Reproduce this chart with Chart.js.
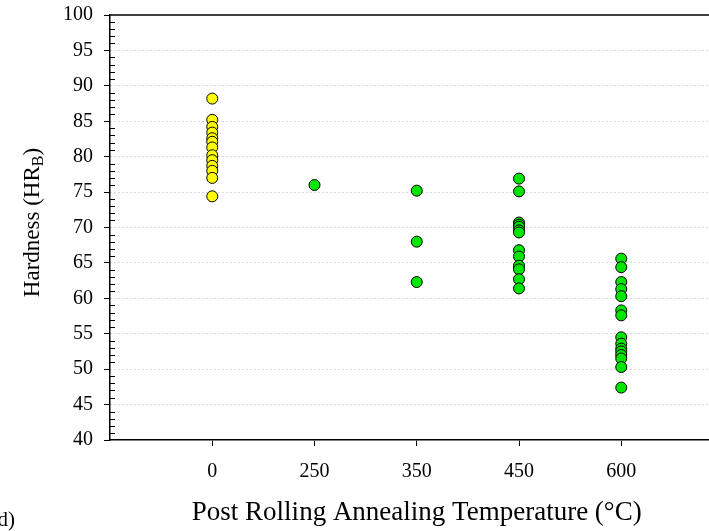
<!DOCTYPE html>
<html>
<head>
<meta charset="utf-8">
<script src="https://cdn.jsdelivr.net/npm/chart.js@4/dist/chart.umd.min.js"></script>
<style>
  html, body { margin: 0; padding: 0; background: #fff; overflow: hidden; }
  #wrap { width: 709px; height: 531px; overflow: hidden; position: relative; }
  #box { width: 730px; height: 531px; position: absolute; left: 0; top: 0; }
</style>
</head>
<body>
<div id="wrap"><div id="box"><canvas id="myChart"></canvas></div></div>
<script>
// temperature categories (x tick labels)
var tempLabels = ['0', '250', '350', '450', '600'];

// hardness readings per temperature
var hard0 = [88.2, 85.2, 84.2, 83.4, 82.6, 82.1, 81.3, 80.2, 79.5, 78.7, 78.0, 77.0, 74.4];
var hard250 = [76.0];
var hard350 = [75.2, 68.0, 62.3];
var hard450 = [76.9, 75.1, 70.7, 70.4, 70.1, 69.6, 69.3, 66.8, 65.9, 64.6, 64.1, 62.7, 61.4];
var hard600 = [65.6, 64.4, 62.3, 61.3, 60.3, 58.3, 57.6, 54.5, 53.6, 52.9, 52.5, 52.0, 51.5, 50.3, 47.4];

var yMin = 40, yMax = 100, yStep = 5;

var serif = "'Liberation Serif', 'Times New Roman', serif";

// turn a list of readings into points at category position idx (1-based)
function toPoints(values, idx) {
    return values.map(function (v) { return { x: idx, y: v }; });
}

var annealed = [].concat(
    toPoints(hard250, 2),
    toPoints(hard350, 3),
    toPoints(hard450, 4),
    toPoints(hard600, 5)
);

// top frame line, minor ticks, y title with subscript, panel letter
var extras = {
    id: 'extras',
    afterDraw: function (chart) {
        var ctx = chart.ctx;
        var area = chart.chartArea;
        var ys = chart.scales.y;
        ctx.save();
        ctx.strokeStyle = '#000';
        ctx.lineWidth = 1.5;
        ctx.beginPath();
        ctx.moveTo(area.left, area.top);
        ctx.lineTo(area.right, area.top);
        ctx.stroke();

        ctx.lineWidth = 1;
        ctx.beginPath();
        for (var v = yMin + 1; v < yMax; v++) {
            if (v % yStep === 0) continue;
            var py = Math.round(ys.getPixelForValue(v)) + 0.5;
            ctx.moveTo(area.left, py);
            ctx.lineTo(area.left + 5, py);
        }
        ctx.stroke();

        // y axis title: Hardness (HR_B)
        ctx.fillStyle = '#000';
        ctx.translate(33, (area.top + area.bottom) / 2 - 5);
        ctx.rotate(-Math.PI / 2);
        var big = '23px ' + serif, small = '16px ' + serif;
        var parts = [['Hardness (HR', big, 0], ['B', small, 6], [')', big, 0]];
        var total = 0;
        parts.forEach(function (p) { ctx.font = p[1]; total += ctx.measureText(p[0]).width; });
        var x = -total / 2;
        ctx.textBaseline = 'middle';
        parts.forEach(function (p) {
            ctx.font = p[1];
            ctx.fillText(p[0], x, p[2]);
            x += ctx.measureText(p[0]).width;
        });
        ctx.restore();

        ctx.save();
        ctx.fillStyle = '#000';
        ctx.font = '21px ' + serif;
        ctx.textAlign = 'right';
        ctx.textBaseline = 'middle';
        ctx.fillText('(d)', 15, 520);
        ctx.restore();
    }
};

function renderChart() {
    var ctx = document.getElementById('myChart').getContext('2d');
    new Chart(ctx, {
        type: 'scatter',
        data: {
            datasets: [
                {
                    label: 'As rolled',
                    data: toPoints(hard0, 1),
                    backgroundColor: '#ffff00',
                    borderColor: '#000',
                    borderWidth: 1,
                    pointRadius: 5.5,
                },
                {
                    label: 'Annealed',
                    data: annealed,
                    backgroundColor: '#00e600',
                    borderColor: '#000',
                    borderWidth: 1,
                    pointRadius: 5.5,
                },
            ]
        },
        options: {
            responsive: true,
            maintainAspectRatio: false,
            animation: false,
            events: [],
            layout: { padding: { left: 0, right: 5, top: 15, bottom: 0 } },
            plugins: { legend: { display: false }, tooltip: { enabled: false } },
            scales: {
                x: {
                    type: 'linear',
                    min: 0,
                    max: tempLabels.length + 1,
                    afterBuildTicks: function (scale) {
                        scale.ticks = tempLabels.map(function (t, i) { return { value: i + 1 }; });
                    },
                    afterFit: function (scale) {
                        scale.height = 91;
                        scale.paddingLeft = 0;
                        scale.paddingRight = 0;
                    },
                    ticks: {
                        autoSkip: false,
                        maxRotation: 0,
                        color: '#000',
                        padding: 14,
                        font: { family: serif, size: 20 },
                        callback: function (v) { return tempLabels[v - 1]; }
                    },
                    grid: {
                        drawOnChartArea: false,
                        tickLength: 6,
                        tickColor: '#000',
                        tickWidth: 1
                    },
                    border: { color: '#000', width: 1.5 },
                    title: {
                        display: true,
                        text: 'Post Rolling Annealing Temperature (°C)',
                        color: '#000',
                        font: { family: serif, size: 27 },
                        padding: { top: 0, bottom: 2 }
                    }
                },
                y: {
                    min: yMin,
                    max: yMax,
                    afterFit: function (scale) {
                        scale.width = 110;
                        scale.paddingTop = 0;
                        scale.paddingBottom = 0;
                    },
                    ticks: {
                        stepSize: yStep,
                        color: '#000',
                        padding: 11,
                        font: { family: serif, size: 20 }
                    },
                    grid: {
                        color: function (c) {
                            var v = c.tick ? c.tick.value : null;
                            return (v === yMin || v === yMax) ? 'rgba(0,0,0,0)' : '#b4b4b4';
                        },
                        lineWidth: 1,
                        tickLength: 6,
                        tickColor: '#000',
                        tickWidth: 1
                    },
                    border: { color: '#000', width: 1.5, dash: [1, 3] }
                }
            }
        },
        plugins: [extras]
    });
}

renderChart();
</script>
</body>
</html>
